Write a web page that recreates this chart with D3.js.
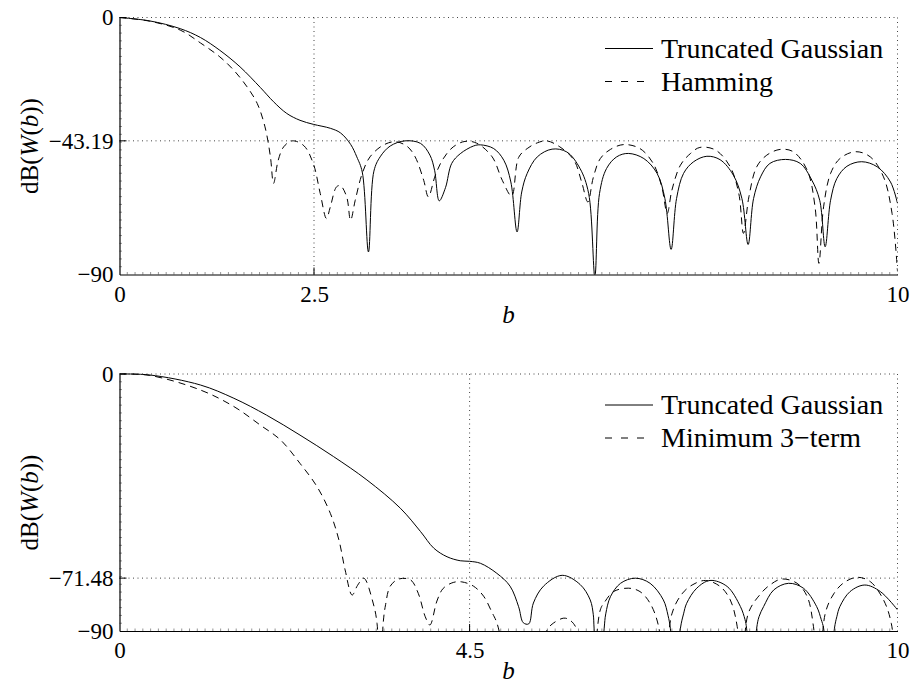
<!DOCTYPE html>
<html>
<head>
<meta charset="utf-8">
<script src="https://cdn.jsdelivr.net/npm/d3@7"></script>
<style>
  html, body { margin: 0; padding: 0; background: #fff; }
  svg { display: block; }
</style>
</head>
<body>
<svg id="chart" width="911" height="685"></svg>
<script>
// ---------------- DATA ----------------
// Panel 1: Truncated Gaussian vs Hamming
const topGaussB  = [0, 0.39, 0.78, 1.04, 1.29, 1.55, 1.81, 1.98, 2.15, 2.32, 2.49, 2.71, 2.84, 2.97, 3.05, 3.12, 3.20, 3.27, 3.35, 3.48, 3.67, 3.87, 3.99, 4.05, 4.11, 4.19, 4.27, 4.38, 4.55, 4.64, 4.81, 4.94, 5.03, 5.11, 5.17, 5.24, 5.37, 5.56, 5.75, 5.92, 6.03, 6.11, 6.17, 6.26, 6.39, 6.54, 6.74, 6.91, 7.01, 7.09, 7.16, 7.25, 7.38, 7.55, 7.72, 7.89, 8.00, 8.08, 8.15, 8.24, 8.36, 8.56, 8.75, 8.90, 9.00, 9.07, 9.14, 9.22, 9.35, 9.54, 9.74, 9.91, 10.0];
const topGaussDb = [0, -1.2, -3.9, -7.0, -11.5, -17.3, -24.5, -29.5, -33.6, -36.0, -37.4, -38.8, -40.4, -44.4, -48.8, -54.1, -82.1, -53.8, -48.8, -45.0, -43.2, -44.1, -48.2, -53.5, -64.2, -59.6, -51.1, -47.7, -45.0, -44.6, -45.9, -50.0, -57.6, -75.1, -61.1, -54.6, -48.8, -46.1, -47.1, -52.9, -61.6, -90.5, -61.6, -52.9, -48.8, -47.6, -49.4, -54.6, -63.4, -81.2, -63.4, -54.6, -50.5, -48.6, -49.8, -55.2, -63.4, -79.5, -63.4, -55.8, -51.1, -49.7, -51.1, -57.0, -64.0, -80.3, -64.0, -56.4, -52.1, -50.5, -52.3, -57.6, -65.1];

const topHammB  = [0, 0.39, 0.78, 1.04, 1.29, 1.47, 1.64, 1.77, 1.87, 1.94, 1.98, 2.04, 2.11, 2.22, 2.37, 2.49, 2.58, 2.66, 2.71, 2.79, 2.84, 2.92, 2.97, 3.03, 3.12, 3.22, 3.39, 3.55, 3.70, 3.80, 3.91, 3.97, 4.06, 4.16, 4.29, 4.44, 4.59, 4.79, 4.92, 5.04, 5.13, 5.24, 5.37, 5.49, 5.66, 5.84, 5.94, 6.02, 6.09, 6.18, 6.31, 6.48, 6.69, 6.86, 6.97, 7.04, 7.10, 7.21, 7.34, 7.46, 7.66, 7.85, 7.96, 8.02, 8.09, 8.19, 8.32, 8.49, 8.66, 8.84, 8.94, 8.99, 9.05, 9.14, 9.26, 9.46, 9.65, 9.82, 9.93, 10.0];
const topHammDb = [0, -1.3, -4.4, -8.9, -13.8, -18.5, -24.3, -30.1, -38.3, -48.8, -58.1, -50.0, -45.3, -43.2, -44.9, -51.1, -61.6, -70.4, -66.3, -59.3, -58.9, -62.8, -71.0, -64.0, -54.6, -48.8, -44.7, -43.5, -45.2, -48.8, -57.0, -62.8, -55.2, -49.5, -45.3, -43.4, -44.0, -48.8, -57.0, -62.5, -49.0, -45.9, -43.9, -43.2, -45.3, -49.9, -57.6, -64.6, -56.0, -49.4, -46.2, -44.5, -45.9, -51.1, -59.3, -68.6, -60.5, -51.7, -47.6, -45.5, -46.4, -52.3, -61.6, -75.6, -62.8, -52.3, -48.2, -46.2, -47.0, -53.5, -66.3, -86.1, -66.3, -54.6, -49.4, -47.0, -48.8, -55.8, -68.6, -89.0];

// Panel 2: Truncated Gaussian vs Minimum 3-term
const botGaussB  = [0, 0.39, 1.04, 1.47, 1.89, 2.32, 2.75, 3.18, 3.61, 3.87, 4.04, 4.21, 4.38, 4.50, 4.64, 4.85, 5.02, 5.13, 5.19, 5.26, 5.32, 5.45, 5.69, 5.92, 6.05, 6.09, 6.10, 6.165, 6.23, 6.25, 6.31, 6.44, 6.63, 6.82, 6.99, 7.05, 7.08, 7.145, 7.21, 7.25, 7.29, 7.42, 7.59, 7.81, 7.98, 8.04, 8.06, 8.125, 8.19, 8.22, 8.28, 8.41, 8.60, 8.79, 8.96, 9.02, 9.05, 9.12, 9.19, 9.22, 9.26, 9.39, 9.58, 9.78, 10.0];
const botGaussDb = [0, -0.35, -3.85, -8.5, -14.4, -21.4, -28.9, -37.1, -47.0, -55.2, -61.0, -64.0, -65.4, -65.6, -66.3, -69.8, -74.3, -81.5, -87.1, -87.5, -80.2, -74.3, -70.5, -73.7, -79.1, -84.3, -89, -110, -89, -84, -78.0, -73.3, -71.5, -73.3, -79.1, -84.5, -89, -110, -89, -84, -80.3, -75.0, -72.3, -74.4, -81.4, -86, -89, -110, -89, -85, -81.4, -75.6, -73.3, -75.0, -81.4, -86, -89, -110, -89, -85, -81.4, -76.2, -73.9, -76.2, -82.6];

const botMinB  = [0, 0.39, 1.04, 1.47, 1.81, 2.07, 2.32, 2.54, 2.71, 2.82, 2.90, 2.99, 3.06, 3.14, 3.26, 3.31, 3.35, 3.39, 3.42, 3.48, 3.59, 3.74, 3.84, 3.93, 3.99, 4.08, 4.16, 4.29, 4.40, 4.55, 4.68, 4.79, 4.85, 5.17, 5.49, 5.56, 5.71, 5.79, 5.88, 6.03, 6.18, 6.24, 6.35, 6.54, 6.69, 6.82, 6.93, 7.00, 7.10, 7.23, 7.36, 7.53, 7.72, 7.85, 7.94, 8.00, 8.08, 8.24, 8.36, 8.51, 8.71, 8.84, 8.92, 8.99, 9.07, 9.18, 9.31, 9.48, 9.65, 9.82, 9.92, 10.0];
const botMinDb = [0, -0.5, -5.6, -11.4, -17.9, -23.1, -31.3, -39.5, -48.8, -58.1, -68.6, -77.4, -74.0, -71.5, -80.2, -87.3, -110, -87.0, -80.8, -74.3, -71.8, -72.1, -76.8, -85.0, -87.9, -79.5, -75.1, -73.0, -72.8, -74.3, -77.8, -83.6, -87.1, -120, -90, -87.6, -85.5, -86.2, -89.6, -120, -82.6, -79.7, -76.2, -75.0, -76.2, -80.3, -88.5, -110, -84, -77, -73.9, -72.3, -74.4, -79.1, -88.5, -110, -84, -77, -73.9, -71.8, -73.3, -78, -88.5, -110, -84, -77, -73.1, -71.2, -72.7, -79.1, -87.3, -110];

const topXTicks = [0, 2.5, 10];
const topYTicks = [-90, -43.19, 0];
const botXTicks = [0, 4.5, 10];
const botYTicks = [-90, -71.48, 0];
const topLegend = ["Truncated Gaussian", "Hamming"];
const botLegend = ["Truncated Gaussian", "Minimum 3\u2212term"];

// ---------------- FONT PICK ----------------
function fontAvailable(f) {
  const ctx = document.createElement("canvas").getContext("2d");
  const s = "Truncated Gaussian 0123456789 WwMm";
  ctx.font = "40px monospace"; const a = ctx.measureText(s).width;
  ctx.font = `40px "${f}", monospace`; const b = ctx.measureText(s).width;
  ctx.font = "40px sans-serif"; const c = ctx.measureText(s).width;
  ctx.font = `40px "${f}", sans-serif`; const d = ctx.measureText(s).width;
  return a !== b || c !== d;
}
const serifCandidates = ["Liberation Serif", "Times New Roman", "Tinos", "Nimbus Roman", "DejaVu Serif", "Noto Serif", "FreeSerif"];
const chosen = serifCandidates.find(fontAvailable);
const FONT = chosen ? `"${chosen}", serif` : "serif";

// ---------------- DRAW ----------------
const svg = d3.select("#chart");
const L = 119.5, R = 897.5;
const TICKFS = 23, LEGFS = 28;

function panel(id, top, bottom, xt, yt, s1b, s1d, s2b, s2d, legend) {
  const x = d3.scaleLinear().domain([0, 10]).range([L, R]);
  const y = d3.scaleLinear().domain([-90, 0]).range([bottom, top]);
  const g = svg.append("g");

  // grid (dotted)
  const gridCol = "#444";
  g.selectAll(".gx").data(xt.filter(v => v !== 0)).enter().append("line")
    .attr("x1", d => x(d)).attr("x2", d => x(d)).attr("y1", top).attr("y2", bottom)
    .attr("stroke", gridCol).attr("stroke-width", 1).attr("stroke-dasharray", "1 3.5");
  g.selectAll(".gy").data(yt.filter(v => v !== -90)).enter().append("line")
    .attr("x1", L).attr("x2", R).attr("y1", d => y(d)).attr("y2", d => y(d))
    .attr("stroke", gridCol).attr("stroke-width", 1).attr("stroke-dasharray", "1 3.5");

  // clip
  svg.append("clipPath").attr("id", id).append("rect")
    .attr("x", L).attr("y", top - 1).attr("width", R - L).attr("height", bottom - top + 1);

  const line = d3.line().x(d => x(d[0])).y(d => y(d[1])).curve(d3.curveCatmullRom.alpha(0.5));
  const d1 = s1b.map((b, i) => [b, s1d[i]]);
  const d2 = s2b.map((b, i) => [b, s2d[i]]);
  const cg = g.append("g").attr("clip-path", `url(#${id})`);
  cg.append("path").attr("d", line(d2)).attr("fill", "none").attr("stroke", "#000")
    .attr("stroke-width", 1).attr("stroke-dasharray", "7 5");
  cg.append("path").attr("d", line(d1)).attr("fill", "none").attr("stroke", "#000")
    .attr("stroke-width", 1);

  // minor ticks
  const minorX = d3.range(1, 100).map(i => i / 10);
  g.selectAll(".mx").data(minorX).enter().append("line")
    .attr("x1", d => x(d)).attr("x2", d => x(d)).attr("y1", bottom).attr("y2", bottom - 2.5)
    .attr("stroke", "#666").attr("stroke-width", 0.7);
  const minorY = d3.range(1, 33).map(i => -90 + i * 90 / 33);
  g.selectAll(".my").data(minorY).enter().append("line")
    .attr("x1", L).attr("x2", L + 2.5).attr("y1", d => y(d)).attr("y2", d => y(d))
    .attr("stroke", "#666").attr("stroke-width", 0.7);

  // axes
  const xAxis = d3.axisBottom(x).tickValues(xt).tickSize(0).tickPadding(11)
    .tickFormat(d => d3.format("")(d));
  const gx = g.append("g").attr("transform", `translate(0,${bottom})`).call(xAxis)
    .attr("font-family", FONT).attr("font-size", TICKFS);
  gx.select(".domain").attr("stroke", "#000").attr("stroke-width", 1.2);
  gx.selectAll("text").attr("fill", "#000");

  const yAxis = d3.axisLeft(y).tickValues(yt).tickSize(0).tickPadding(6)
    .tickFormat(d => d === 0 ? "0" : ("\u2212" + Math.abs(d)));
  const gy = g.append("g").attr("transform", `translate(${L},0)`).call(yAxis)
    .attr("font-family", FONT).attr("font-size", TICKFS);
  gy.select(".domain").attr("stroke", "#000").attr("stroke-width", 1.2);
  gy.selectAll("text").attr("fill", "#000");

  // major inward ticks
  g.selectAll(".tx").data(xt.filter(v => v !== 0 && v !== 10)).enter().append("line")
    .attr("x1", d => x(d)).attr("x2", d => x(d)).attr("y1", bottom).attr("y2", bottom - 7)
    .attr("stroke", "#000").attr("stroke-width", 1);
  g.selectAll(".ty").data(yt.filter(v => v !== -90)).enter().append("line")
    .attr("x1", L).attr("x2", L + 7).attr("y1", d => y(d)).attr("y2", d => y(d))
    .attr("stroke", "#000").attr("stroke-width", 1);

  // x label
  g.append("text").attr("x", (L + R) / 2).attr("y", bottom + 48)
    .attr("text-anchor", "middle").attr("font-family", FONT).attr("font-size", 25)
    .attr("font-style", "italic").text("b");

  // y label
  const yl = g.append("text")
    .attr("transform", `translate(38,${(top + bottom) / 2}) rotate(-90)`)
    .attr("text-anchor", "middle").attr("font-family", FONT).attr("font-size", 25);
  yl.append("tspan").text("dB(");
  yl.append("tspan").attr("font-style", "italic").text("W");
  yl.append("tspan").text("(");
  yl.append("tspan").attr("font-style", "italic").text("b");
  yl.append("tspan").text("))");

  // legend
  const lg = g.append("g");
  legend.forEach((t, i) => {
    const ly = top + 31 + i * 33;
    lg.append("line").attr("x1", 605).attr("x2", 653).attr("y1", ly).attr("y2", ly)
      .attr("stroke", "#000").attr("stroke-width", 1)
      .attr("stroke-dasharray", i === 0 ? null : "7 9");
    lg.append("text").attr("x", 661).attr("y", ly + 9)
      .attr("font-family", FONT).attr("font-size", LEGFS).text(t);
  });
}

panel("c1", 17.5, 274.5, topXTicks, topYTicks, topGaussB, topGaussDb, topHammB, topHammDb, topLegend);
panel("c2", 374, 631, botXTicks, botYTicks, botGaussB, botGaussDb, botMinB, botMinDb, botLegend);
</script>
</body>
</html>
